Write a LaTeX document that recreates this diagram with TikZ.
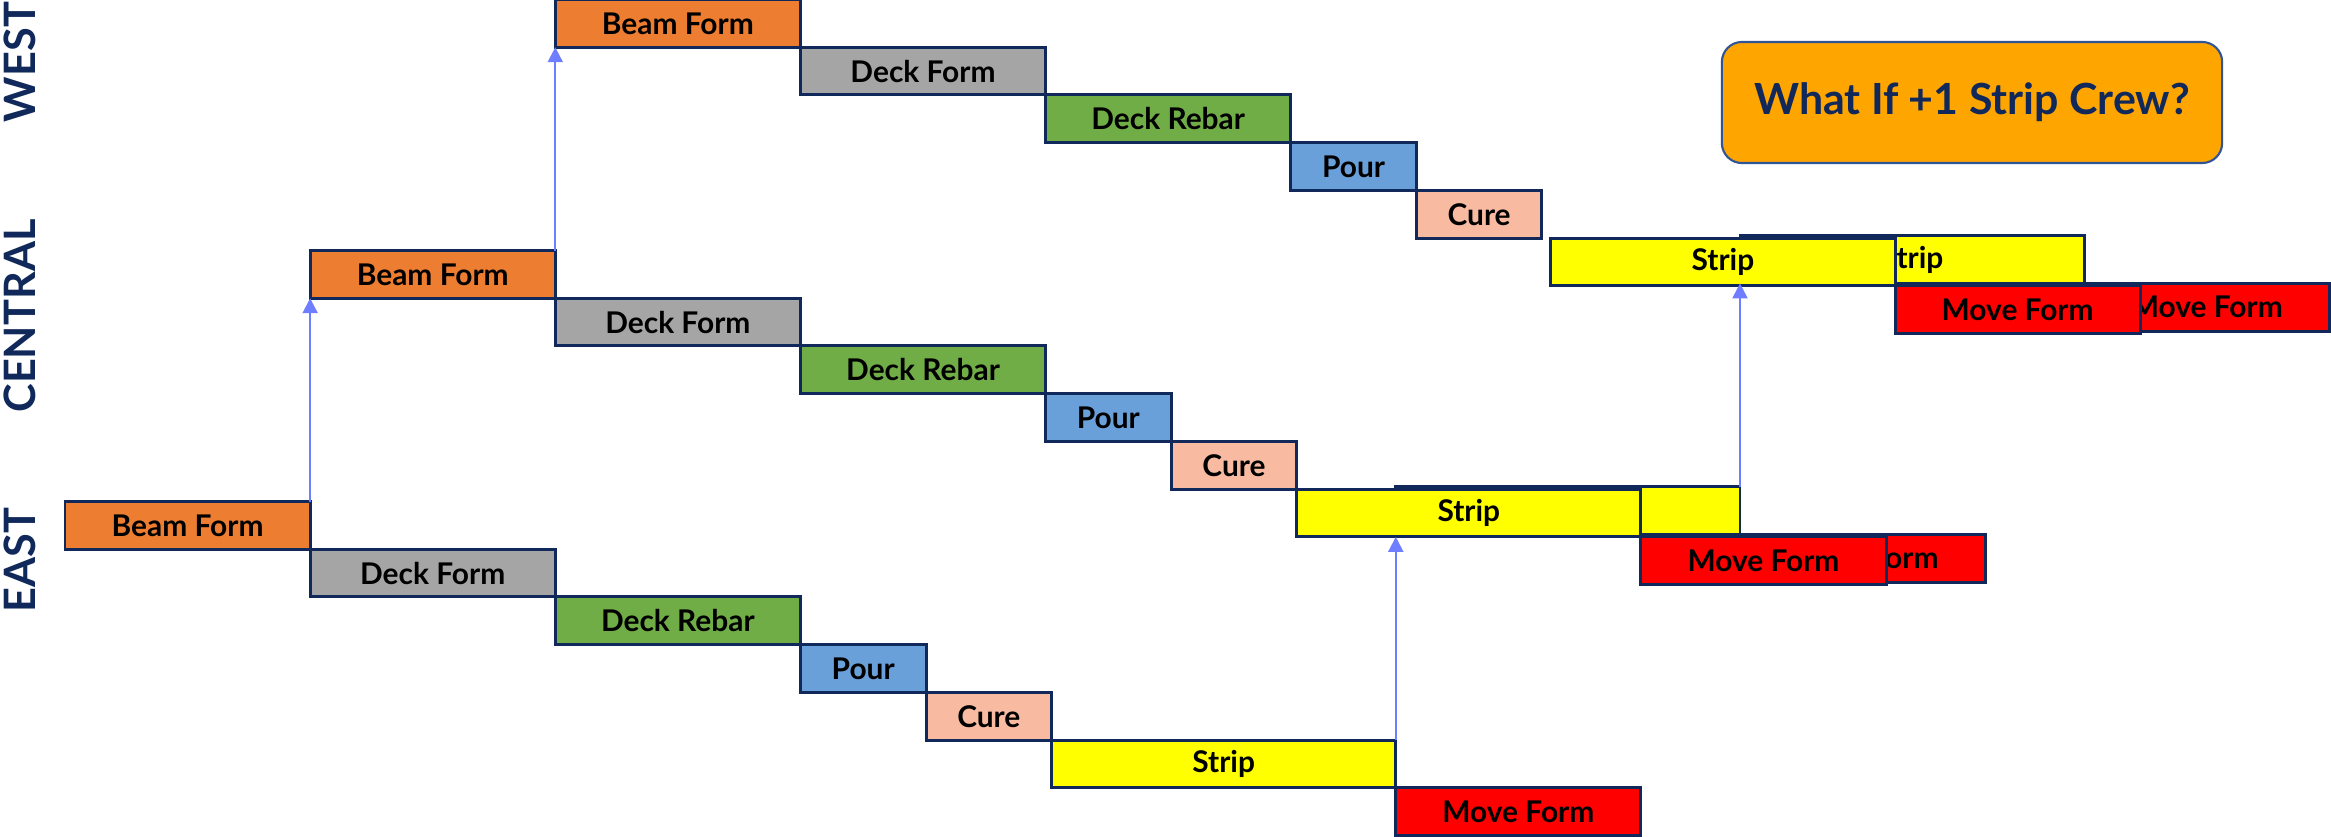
\documentclass[tikz,border=0pt]{standalone}
\usepackage{fontspec}
\setmainfont{Lato}
\usetikzlibrary{calc, arrows.meta}

\definecolor{navy}{HTML}{10285A}
\definecolor{beamorange}{HTML}{ED7D31}
\definecolor{deckgray}{HTML}{A5A5A5}
\definecolor{rebargreen}{HTML}{70AD47}
\definecolor{pourblue}{HTML}{6AA0DA}
\definecolor{curepink}{HTML}{F8BBA2}
\definecolor{stripyellow}{HTML}{FFFF00}
\definecolor{movered}{HTML}{FF0000}
\definecolor{linkblue}{HTML}{6F7DFF}
\definecolor{calloutorange}{HTML}{FFA500}
\definecolor{calloutedge}{HTML}{2F5597}

\tikzset{
  task/.style={draw=navy, line width=0.85pt, anchor=north west, inner sep=0pt,
    outer sep=0pt, minimum height=0.477cm, font=\fontsize{8.5}{10}\selectfont\bfseries},
  beambox/.style={task, fill=beamorange, minimum width=2.45cm},
  deckbox/.style={task, fill=deckgray, minimum width=2.45cm},
  rebarbox/.style={task, fill=rebargreen, minimum width=2.45cm},
  pourbox/.style={task, fill=pourblue, minimum width=1.255cm},
  curebox/.style={task, fill=curepink, minimum width=1.255cm},
  stripbox/.style={task, fill=stripyellow, minimum width=3.44cm},
  movebox/.style={task, fill=movered, minimum width=2.45cm},
  link/.style={draw=linkblue, line width=0.6pt, -{Triangle[length=1.5mm, width=1.5mm]}},
  zone/.style={rotate=90, text=navy, font=\fontsize{12.3}{14}\selectfont\bfseries},
  callout/.style={draw=calloutedge, fill=calloutorange, line width=0.6pt,
    rounded corners=0.2cm, minimum width=5cm, minimum height=1.21cm,
    text=navy, font=\fontsize{12.2}{14}\selectfont\bfseries},
}

\begin{document}
\begin{tikzpicture}[x=0.01cm, y=-0.01cm]
  \useasboundingbox (0,0) rectangle (2331,836);

  % zone labels
  \node[zone] (west)    at (20,62)  {WEST};
  \node[zone] (central) at (20,316) {CENTRAL};
  \node[zone] (east)    at (20,560) {EAST};

  % EAST
  \node[beambox]  (eBeam)  at (65,501.5)        {Beam Form};
  \node[deckbox]  (eDeck)  at (eBeam.south east)  {Deck Form};
  \node[rebarbox] (eRebar) at (eDeck.south east)  {Deck Rebar};
  \node[pourbox]  (ePour)  at (eRebar.south east) {Pour};
  \node[curebox]  (eCure)  at (ePour.south east)  {Cure};
  \node[stripbox] (eStrip) at (eCure.south east)  {Strip};
  \node[movebox]  (eMove)  at (eStrip.south east) {Move Form};

  % CENTRAL
  \node[beambox]  (cBeam)  at ($(eBeam.north east)+(0,-251)$) {Beam Form};
  \node[deckbox]  (cDeck)  at (cBeam.south east)  {Deck Form};
  \node[rebarbox] (cRebar) at (cDeck.south east)  {Deck Rebar};
  \node[pourbox]  (cPour)  at (cRebar.south east) {Pour};
  \node[curebox]  (cCure)  at (cPour.south east)  {Cure};
  % second strip crew, behind
  \node[stripbox] (cStrip2) at ($(eStrip.north east |- cCure.south)+(0,-2.5)$) {Strip};
  \node[movebox]  (cMove2)  at (cStrip2.south east) {Move Form};
  \node[stripbox] (cStrip) at (cCure.south east)  {Strip};
  \node[movebox]  (cMove)  at (cStrip.south east) {Move Form};

  % WEST
  \node[beambox]  (wBeam)  at ($(cBeam.north east)+(0,-251)$) {Beam Form};
  \node[deckbox]  (wDeck)  at (wBeam.south east)  {Deck Form};
  \node[rebarbox] (wRebar) at (wDeck.south east)  {Deck Rebar};
  \node[pourbox]  (wPour)  at (wRebar.south east) {Pour};
  \node[curebox]  (wCure)  at (wPour.south east)  {Cure};
  % second strip crew, behind
  \node[stripbox] (wStrip2) at ($(cStrip2.north east |- wCure.south)+(0,-2.5)$) {Strip};
  \node[movebox]  (wMove2)  at (wStrip2.south east) {Move Form};
  \node[stripbox] (wStrip) at ($(wCure.south east)+(9,0)$) {Strip};
  \node[movebox]  (wMove)  at (wStrip.south east) {Move Form};

  % crew hand-offs
  \draw[link] (eBeam.north east) -- (cBeam.south west);
  \draw[link] (cBeam.north east) -- (wBeam.south west);
  \draw[link] (eStrip.north east) -- (eStrip.north east |- cStrip.south);
  \draw[link] (cStrip2.north east) -- (wStrip2.south west);

  \node[callout] (crew) at (1972,102.5) {What If +1 Strip Crew?};
\end{tikzpicture}
\end{document}
